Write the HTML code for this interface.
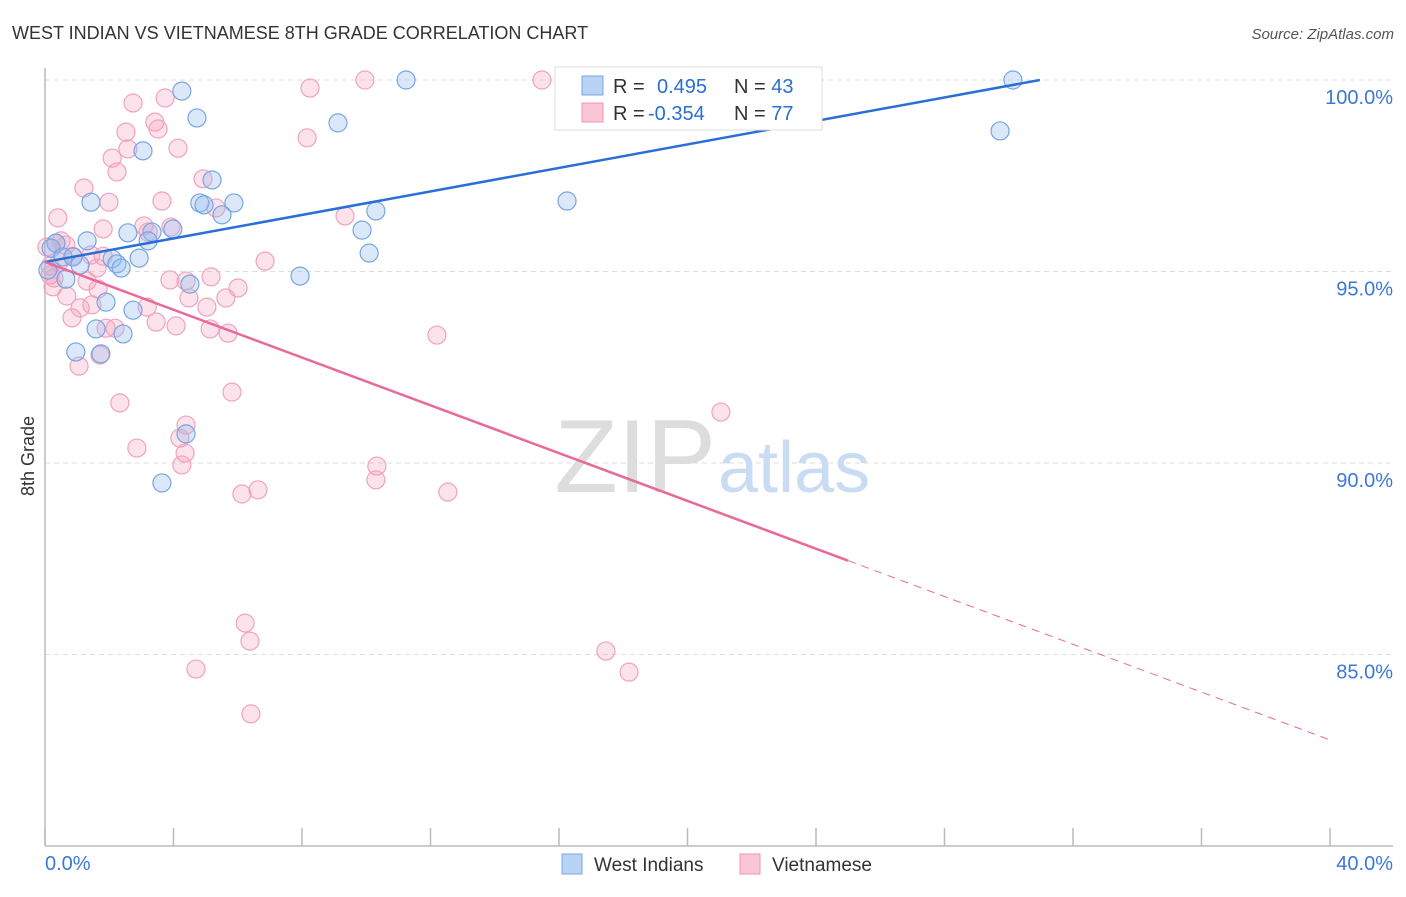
<!DOCTYPE html>
<html><head><meta charset="utf-8"><style>
body{margin:0;background:#fff;font-family:"Liberation Sans",sans-serif;}
svg text{font-family:"Liberation Sans",sans-serif;}
</style></head><body>
<svg width="1406" height="892" viewBox="0 0 1406 892" xmlns="http://www.w3.org/2000/svg">
<text x="12" y="39" font-size="18" fill="#333">WEST INDIAN VS VIETNAMESE 8TH GRADE CORRELATION CHART</text>
<text x="1394" y="39" font-size="15" fill="#555" font-style="italic" text-anchor="end">Source: ZipAtlas.com</text>
<g id="grid"></g>
<g id="axes"></g>
<text x="716" y="492" font-size="104" fill="#ddd" text-anchor="end" font-family="Liberation Serif">ZIP</text>
<text x="718" y="492" font-size="72" fill="#c9dcf3">atlas</text>
<g id="pts"></g>
<g id="lines"></g>
<g>
<rect x="555" y="67" width="267" height="63" fill="#fff" stroke="#ddd"/>
<rect x="582" y="76" width="21" height="19" fill="#b9d3f5" stroke="#7aa5e0"/>
<rect x="582" y="103" width="21" height="19" fill="#f9c6d5" stroke="#ee94b1"/>
<text x="613" y="93" font-size="20" fill="#333">R = <tspan x="657" fill="#2a6fd6">0.495</tspan><tspan x="734" fill="#333">N = </tspan><tspan fill="#2a6fd6">43</tspan></text>
<text x="613" y="120" font-size="20" fill="#333">R = <tspan x="648" fill="#2a6fd6">-0.354</tspan><tspan x="734" fill="#333">N = </tspan><tspan fill="#2a6fd6">77</tspan></text>
</g>
<g>
<rect x="562" y="854" width="20" height="20" fill="#b9d3f5" stroke="#7aa5e0"/>
<text x="594" y="871" font-size="19" fill="#333">West Indians</text>
<rect x="740" y="854" width="20" height="20" fill="#f9c6d5" stroke="#ee94b1"/>
<text x="772" y="871" font-size="19" fill="#333">Vietnamese</text>
</g>
<text x="34" y="456" font-size="18" fill="#333" text-anchor="middle" transform="rotate(-90 34 456)">8th Grade</text>
</svg>
<script>
const blueX=[11.24,30.13,4.26,4.73,9.12,29.73,3.05,5.20,1.43,4.82,4.95,5.88,5.51,10.30,16.25,3.98,2.58,3.33,9.87,3.21,1.31,0.34,0.19,10.09,0.56,0.87,2.09,2.93,2.24,2.37,1.09,7.94,0.65,4.51,1.90,2.74,1.59,2.43,0.96,1.74,4.39,3.64,0.09];
const blueY=[100,100,99.71,99.01,98.88,98.67,98.15,97.39,96.81,96.79,96.74,96.79,96.48,96.58,96.84,96.11,96.01,96.03,96.08,95.80,95.80,95.74,95.61,95.48,95.38,95.38,95.33,95.35,95.20,95.09,95.17,94.88,94.80,94.67,94.20,93.99,93.50,93.37,92.90,92.85,90.76,89.48,95.04];
const pinkX=[9.96,15.47,8.25,3.74,2.74,3.42,3.52,2.52,8.16,4.14,2.58,2.09,2.24,4.92,1.21,3.64,1.99,5.32,0.40,9.34,3.08,3.92,1.81,3.21,0.50,0.34,0.65,0.06,1.43,0.87,1.81,6.85,0.44,0.16,1.62,0.16,0.28,1.31,3.89,5.17,4.39,0.25,6.01,1.65,4.48,0.68,5.63,1.46,5.04,3.18,1.09,0.84,3.46,4.08,1.90,2.18,5.14,5.70,12.20,1.71,1.06,5.82,2.33,21.04,2.86,4.39,4.20,4.36,4.26,10.33,10.30,6.63,6.13,12.54,6.23,6.38,17.46,4.70,18.18,6.41];
const pinkY=[100,100,99.79,99.53,99.40,98.90,98.72,98.64,98.49,98.22,98.20,97.96,97.60,97.42,97.18,96.84,96.81,96.66,96.40,96.45,96.19,96.16,96.11,96.03,95.80,95.74,95.69,95.64,95.43,95.40,95.40,95.27,95.25,95.14,95.09,94.91,94.83,94.75,94.78,94.86,94.75,94.60,94.57,94.54,94.31,94.36,94.31,94.13,94.07,94.07,94.05,93.79,93.68,93.58,93.52,93.52,93.50,93.39,93.34,92.82,92.53,91.85,91.57,91.33,90.39,90.99,90.65,90.26,89.95,89.92,89.56,89.30,89.19,89.24,85.82,85.35,85.09,84.62,84.54,83.45];
const yTicks=[100,95,90,85];
const yTickLabels=["100.0%","95.0%","90.0%","85.0%"];
const xTicks=[0,4,8,12,16,20,24,28,32,36,40];
const blueTrend=[[0,95.25],[30.97,100]];
const pinkTrendSolid=[[0,95.25],[25.0,87.45]];
const pinkTrendDash=[[25.0,87.45],[40,82.77]];
const NS="http://www.w3.org/2000/svg";
const sx=v=>45+v*32.125, sy=v=>80+(100-v)*38.3;
function mk(tag,attrs,parent){const e=document.createElementNS(NS,tag);for(const k in attrs)e.setAttribute(k,attrs[k]);parent.appendChild(e);return e;}
const grid=document.getElementById('grid'),axes=document.getElementById('axes'),pts=document.getElementById('pts'),lines=document.getElementById('lines');
yTicks.forEach((t,i)=>{
 const l=mk('line',{x1:45,x2:1393,y1:sy(t),y2:sy(t),stroke:'#ddd','stroke-dasharray':'5,4'},grid);
 
 
 const tx=mk('text',{x:1393,y:sy(t)+24,'font-size':20,fill:'#3c78d8','text-anchor':'end'},axes);
 tx.textContent=yTickLabels[i];
 
 
});
let a=mk('line',{x1:45,x2:45,y1:68,y2:846,stroke:'#bbb','stroke-width':1.5},axes);


a=mk('line',{x1:45,x2:1393,y1:846,y2:846,stroke:'#bbb','stroke-width':1.5},axes);


xTicks.forEach(t=>{
 const l=mk('line',{x1:sx(t),x2:sx(t),y1:828,y2:846,stroke:'#bbb','stroke-width':1.5},axes);
 
 
});
let xl=mk('text',{x:45,y:870,'font-size':20,fill:'#3c78d8'},axes);xl.textContent='0.0%';


xl=mk('text',{x:1393,y:870,'font-size':20,fill:'#3c78d8','text-anchor':'end'},axes);xl.textContent='40.0%';


pinkX.forEach((x,i)=>{
 const c=mk('circle',{cx:sx(x),cy:sy(pinkY[i]),r:9,fill:'rgba(244,160,186,0.3)',stroke:'#f0a3bc','stroke-width':1.2},pts);
 
 
});
blueX.forEach((x,i)=>{
 const c=mk('circle',{cx:sx(x),cy:sy(blueY[i]),r:9,fill:'rgba(150,190,240,0.35)',stroke:'#78a5e2','stroke-width':1.2},pts);
 
 
});
function ln(p,col,dash,name){
 const l=mk('line',{x1:sx(p[0][0]),y1:sy(p[0][1]),x2:sx(p[1][0]),y2:sy(p[1][1]),stroke:col,'stroke-width':dash?1:2.5},lines);
 if(dash)l.setAttribute('stroke-dasharray','8,6');
 
 
}
ln(blueTrend,'#2a6fd6',false,'trend-west-indians');
ln(pinkTrendSolid,'#e8699a',false,'trend-vietnamese');
ln(pinkTrendDash,'#e8699a',true,'trend-vietnamese-extrapolated');
</script>
</body></html>
